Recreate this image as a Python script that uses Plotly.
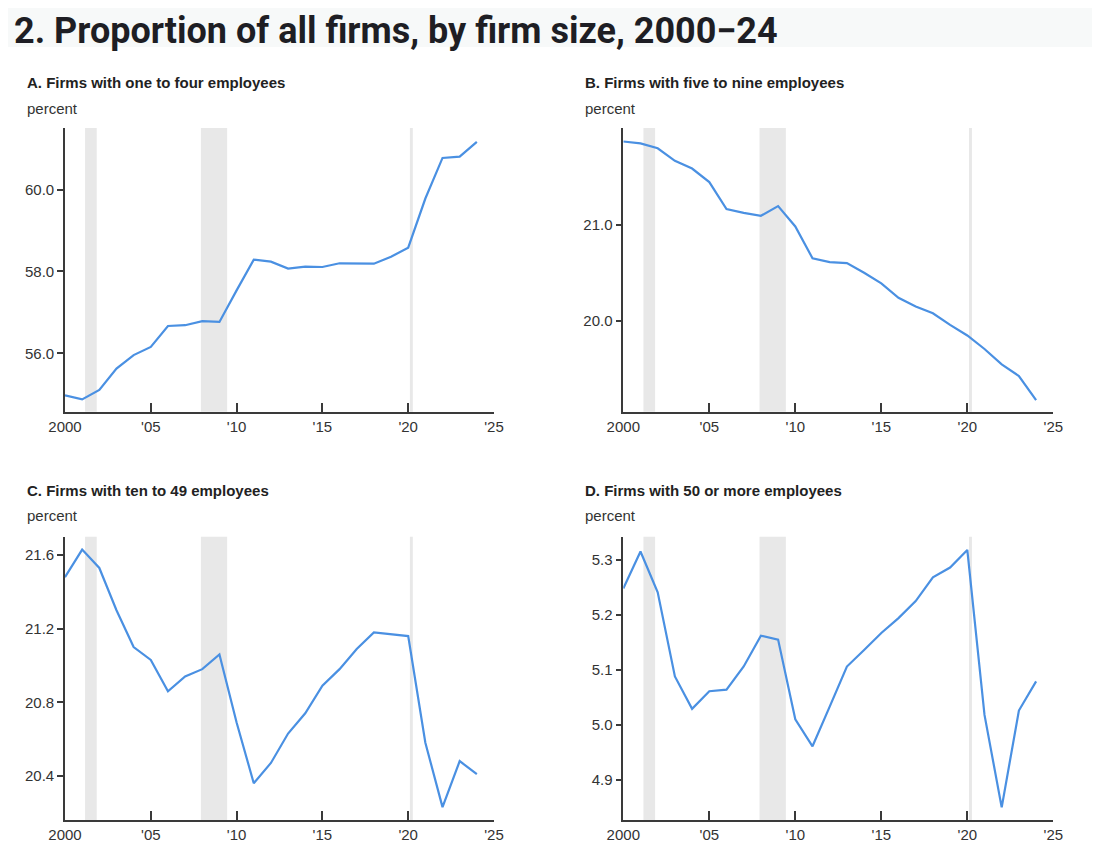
import plotly.graph_objects as go
from plotly.subplots import make_subplots

# Data (percent of all firms)
years = list(range(2000, 2025))

one_to_four = [54.98, 54.88, 55.11, 55.63, 55.96, 56.16, 56.67, 56.69, 56.79, 56.77,
               57.54, 58.29, 58.24, 58.07, 58.12, 58.11, 58.20, 58.20, 58.19, 58.36,
               58.58, 59.78, 60.77, 60.80, 61.16]

five_to_nine = [21.86, 21.84, 21.79, 21.66, 21.58, 21.44, 21.16, 21.12, 21.09, 21.19,
                20.98, 20.65, 20.61, 20.60, 20.50, 20.39, 20.24, 20.15, 20.08, 19.96,
                19.85, 19.71, 19.55, 19.43, 19.18]

ten_to_49 = [21.48, 21.63, 21.53, 21.30, 21.10, 21.03, 20.86, 20.94, 20.98, 21.06,
             20.69, 20.36, 20.47, 20.63, 20.74, 20.89, 20.98, 21.09, 21.18, 21.17,
             21.16, 20.58, 20.23, 20.48, 20.41]

fifty_plus = [5.248, 5.315, 5.241, 5.088, 5.029, 5.061, 5.064, 5.106, 5.162, 5.155,
              5.010, 4.961, 5.033, 5.106, 5.136, 5.167, 5.194, 5.225, 5.268, 5.286,
              5.318, 5.018, 4.850, 5.026, 5.079]

panel_titles = ["A. Firms with one to four employees",
                "B. Firms with five to nine employees",
                "C. Firms with ten to 49 employees",
                "D. Firms with 50 or more employees"]

# recessions (start, end) in fractional years
recessions = [(2001.17, 2001.85), (2007.92, 2009.45), (2020.1, 2020.27)]

x_tickvals = [2000, 2005, 2010, 2015, 2020, 2025]
x_ticktext = ["2000", "'05", "'10", "'15", "'20", "'25"]

y_ranges = [[54.58, 61.5], [19.06, 22.0], [20.16, 21.70], [4.827, 5.342]]
y_tickvals = [[56, 58, 60], [20, 21], [20.4, 20.8, 21.2, 21.6], [4.9, 5.0, 5.1, 5.2, 5.3]]

# page has an 8px body margin, so the figure is sized to fit the 1100x851 window
OFF = 8
W, H = 1100 - 2 * OFF, 851 - 2 * OFF


def px_x(p):
    return (p - OFF) / W


def px_y(p):
    return 1 - (p - OFF) / H


LINE = "rgb(74,144,226)"
SHADE = "#e8e8e8"
AXIS = "#3a3a3a"

fig = make_subplots(rows=2, cols=2)

series = [one_to_four, five_to_nine, ten_to_49, fifty_plus]
pos = [(1, 1), (1, 2), (2, 1), (2, 2)]
for s, (r, c) in zip(series, pos):
    fig.add_trace(go.Scatter(x=years, y=s, mode="lines",
                             line=dict(color=LINE, width=2.2),
                             showlegend=False), row=r, col=c)

# pixel positions (page coordinates) of the plot areas
x_dom = [(65, 494), (623.3, 1053.3)]
y_dom = [(128, 411.7), (536.7, 820)]

tick_font = dict(family="Liberation Sans, Arial, sans-serif", size=15, color="#333333")

for i in range(4):
    r, c = pos[i]
    xn = "xaxis" if i == 0 else "xaxis%d" % (i + 1)
    yn = "yaxis" if i == 0 else "yaxis%d" % (i + 1)
    xd = x_dom[c - 1]
    yd = y_dom[r - 1]
    fig.layout[xn].update(
        domain=[px_x(xd[0]), px_x(xd[1])], range=[2000, 2025],
        tickvals=x_tickvals, ticktext=x_ticktext,
        ticks="inside", ticklen=9, tickwidth=1.5, tickcolor=AXIS,
        showline=True, linecolor=AXIS, linewidth=1.6, automargin=False,
        showgrid=False, zeroline=False, tickfont=tick_font)
    fig.layout[yn].update(
        domain=[px_y(yd[1]), px_y(yd[0])], range=y_ranges[i],
        tickvals=y_tickvals[i], tickformat=".1f",
        ticks="outside", ticklen=6, tickwidth=1.5, tickcolor=AXIS,
        showline=True, linecolor=AXIS, linewidth=1.6, automargin=False,
        showgrid=False, zeroline=False, tickfont=tick_font)
    xref = "x" if i == 0 else "x%d" % (i + 1)
    yref = "y domain" if i == 0 else "y%d domain" % (i + 1)
    for a, b in recessions:
        fig.add_shape(type="rect", xref=xref, yref=yref, x0=a, x1=b, y0=0, y1=1,
                      fillcolor=SHADE, line=dict(width=0), layer="below")

# title strip
fig.add_shape(type="rect", xref="paper", yref="paper", x0=0, x1=1,
              y0=px_y(47), y1=1, fillcolor="#f7f9f9", line=dict(width=0), layer="below")

annos = [dict(text="<b>2. Proportion of all firms, by firm size, 2000\u221224</b>",
              x=px_x(12), y=px_y(8), xref="paper", yref="paper", xanchor="left", yanchor="top",
              showarrow=False,
              font=dict(family="Roboto, sans-serif", size=36, color="#1e1e24"))]

title_px = [(25, 82.7), (583, 82.7), (25, 490), (583, 490)]
for t, (px, py) in zip(panel_titles, title_px):
    annos.append(dict(text="<b>%s</b>" % t, x=px_x(px), y=px_y(py), xref="paper", yref="paper",
                      xanchor="left", yanchor="middle", showarrow=False,
                      font=dict(family="Liberation Sans, Arial, sans-serif", size=15, color="#222222")))
    annos.append(dict(text="percent", x=px_x(px), y=px_y(py + 25.5), xref="paper", yref="paper",
                      xanchor="left", yanchor="middle", showarrow=False,
                      font=dict(family="Liberation Sans, Arial, sans-serif", size=15, color="#333333")))

fig.update_layout(width=W, height=H, margin=dict(l=0, r=0, t=0, b=0, autoexpand=False),
                  paper_bgcolor="white", plot_bgcolor="white", annotations=annos)

fig.write_html("out.html")
